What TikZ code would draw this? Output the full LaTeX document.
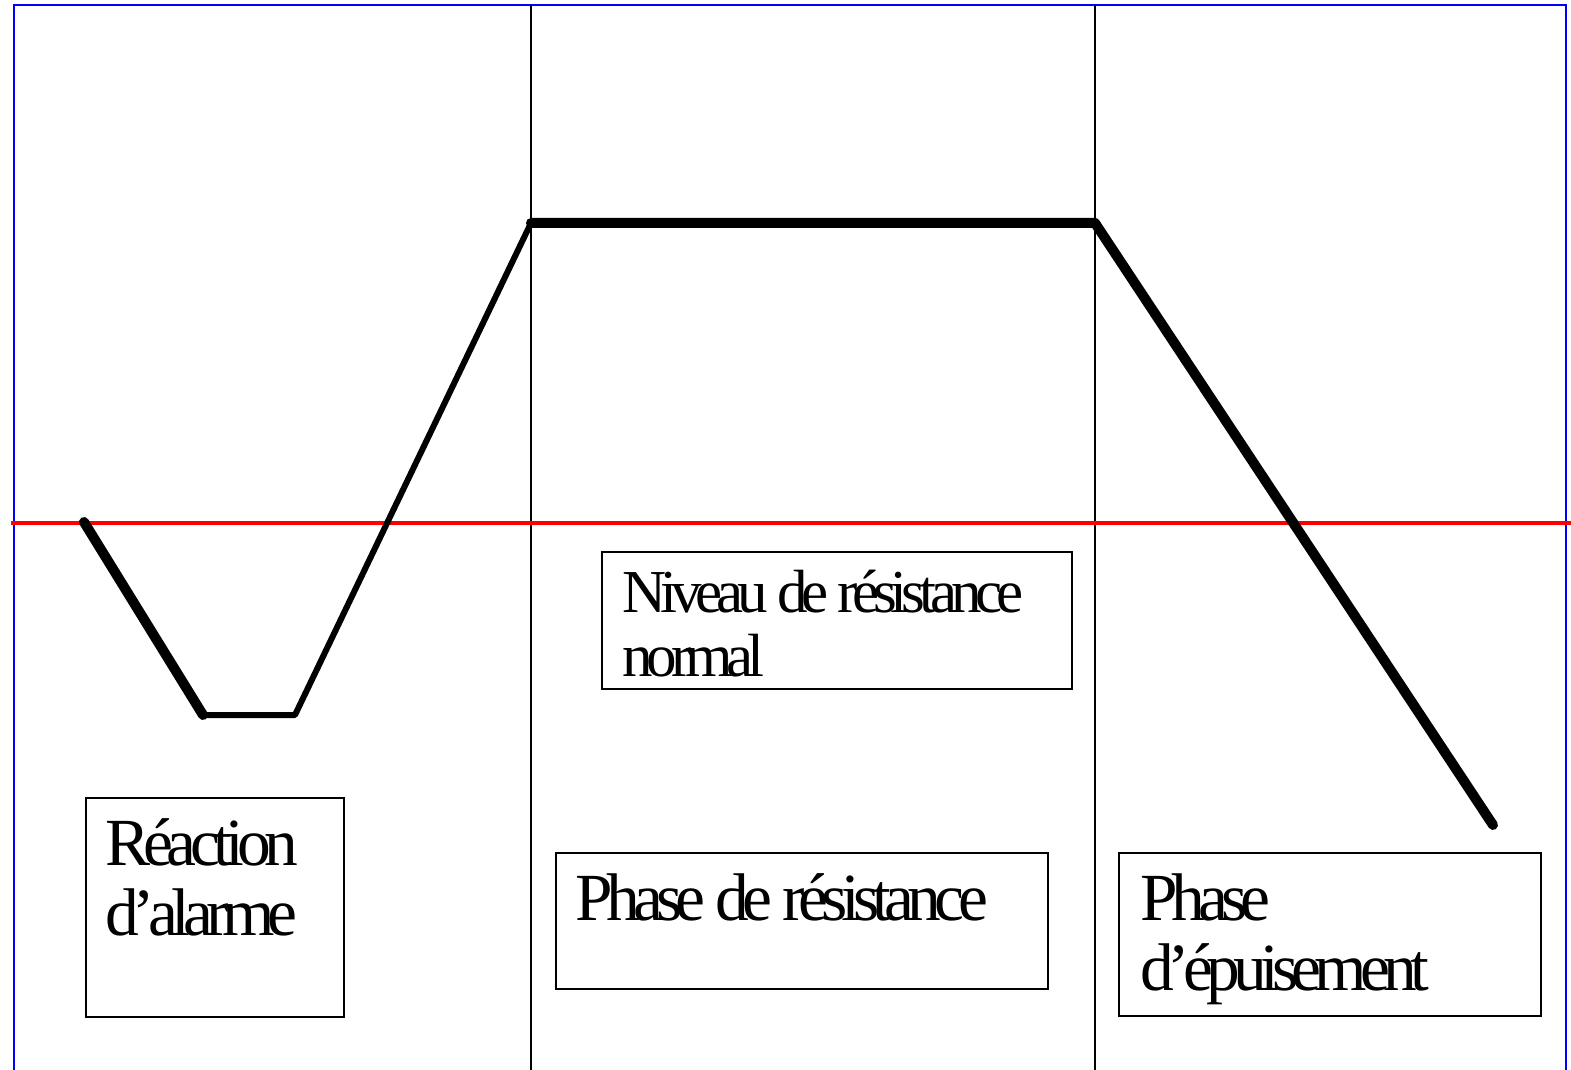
\documentclass[tikz,border=0pt]{standalone}
\usepackage{fontspec}
\setmainfont{Liberation Serif}[LetterSpace=-10]
\usepackage{tikz}
\usetikzlibrary{calc}
\definecolor{colNiveau}{RGB}{255,0,0}
\definecolor{colCadre}{RGB}{0,0,255}

\begin{document}
\begin{tikzpicture}[
  x=0.5pt, y=-0.5pt,
  cadre/.style={draw, line width=1pt, anchor=north west, inner sep=0pt},
  texte/.style={anchor=base west, inner sep=0pt, align=left,
                font=\fontsize{33.7}{35}\selectfont},
  petit/.style={texte, font=\fontsize{30.5}{32}\selectfont},
  gros/.style={line width=5pt, line cap=round, line join=round},
  moyen/.style={line width=3pt, line cap=round, line join=round},
]
\useasboundingbox (0,0) rectangle (1571,1070);

% frame and phase limits
\draw[colCadre, line width=1.2pt] (14,1070) -- (14,5) -- (1566,5) -- (1566,1070);
\draw[line width=0.8pt] (531,5) -- (531,1070);
\draw[line width=0.8pt] (1095,5) -- (1095,1070);
\draw[colNiveau, line width=2pt] (11,523) -- (1571,523);

% curve
\coordinate (c0) at (84,522);
\coordinate (c1) at (203,715);
\coordinate (c2) at (295,715);
\coordinate (c3) at (531,223);
\coordinate (c4) at (1095,223);
\coordinate (c5) at (1493,825);
\draw[gros] (c0) -- (c1);
\draw[moyen] (c1) -- (c2) -- (c3);
\draw[gros] (c3) -- (c4) -- (c5);

% boxes
\node[cadre, minimum width=129pt, minimum height=109.5pt] (alarme) at (85,797) {};
\node[cadre, minimum width=235pt, minimum height=68.5pt] (niveau) at (601,551) {};
\node[cadre, minimum width=246pt, minimum height=68pt] (resist) at (555,852) {};
\node[cadre, minimum width=211pt, minimum height=81.5pt] (epuis) at (1118,852) {};

\node[texte] (talarme) at ($(alarme.north west)+(20,138)$) {Réaction\\d’alarme};
\node[petit] (tniveau) at ($(niveau.north west)+(21,125)$) {Niveau de résistance\\normal};
\node[texte] (tresist) at ($(resist.north west)+(20,68)$) {Phase de résistance};
\node[texte] (tepuis) at ($(epuis.north west)+(22,138)$) {Phase\\d’épuisement};

\end{tikzpicture}
\end{document}
